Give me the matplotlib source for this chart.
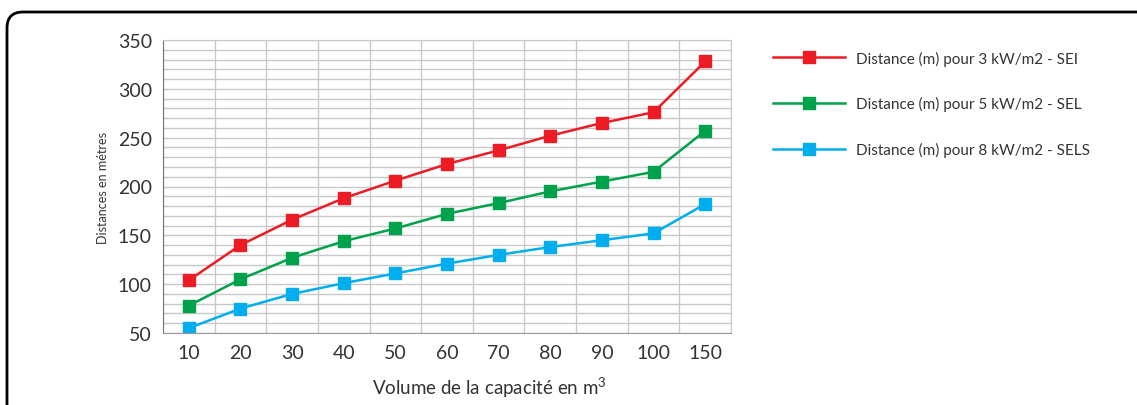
import matplotlib
matplotlib.use("Agg")
import matplotlib.pyplot as plt
from matplotlib.patches import FancyBboxPatch
from matplotlib.transforms import IdentityTransform
from matplotlib.ticker import MultipleLocator, FixedLocator

plt.rcParams['font.family'] = ['Lato', 'DejaVu Sans']
plt.rcParams['mathtext.fontset'] = 'custom'
plt.rcParams['mathtext.rm'] = 'Lato'
plt.rcParams['mathtext.default'] = 'rm'

# --- Data ---
volumes = ["10", "20", "30", "40", "50", "60", "70", "80", "90", "100", "150"]
sei = [104, 140, 166, 188, 206, 223, 237, 252, 265, 276, 328]
sel = [78, 105, 127, 144, 157, 172, 183, 195, 205, 215, 257]
sels = [55, 75, 90, 101, 111, 121, 130, 138, 145, 152, 182]

series = [
    ("Distance (m) pour 3 kW/m2 - SEI", sei, "#ED1C24"),
    ("Distance (m) pour 5 kW/m2 - SEL", sel, "#00A14B"),
    ("Distance (m) pour 8 kW/m2 - SELS", sels, "#00AEEF"),
]

W, H = 1137, 406
fig = plt.figure(figsize=(W / 100, H / 100), dpi=100)

# --- rounded frame around the chart (pixel coords, runs off right/bottom) ---
frame = FancyBboxPatch((7, -40), 1300, H - 13 + 40,
                       boxstyle="round,pad=0,rounding_size=16",
                       transform=IdentityTransform(), fill=False,
                       edgecolor="black", linewidth=2)
fig.patches.append(frame)

ax = fig.add_axes([163 / W, 1 - 334 / H, (731 - 163) / W, (334 - 41) / H])

x = list(range(len(volumes)))
for label, vals, color in series:
    ax.plot(x, vals, color=color, linewidth=1.8, marker="s", markersize=9,
            label=label)

ax.set_xlim(-0.5, len(volumes) - 0.5)
ax.set_ylim(50, 350)
ax.set_xticks(x)
ax.set_xticklabels(volumes)
ax.xaxis.set_minor_locator(FixedLocator([i - 0.5 for i in range(len(volumes) + 1)]))
ax.yaxis.set_major_locator(MultipleLocator(50))
ax.yaxis.set_minor_locator(MultipleLocator(10))

ax.grid(which="minor", axis="both", color="#c8c8c8", linewidth=1)
ax.grid(which="major", axis="y", color="#c8c8c8", linewidth=1)
ax.set_axisbelow(True)
ax.tick_params(which="both", length=0)
ax.tick_params(axis="y", labelsize=14, colors="#333333", pad=8)
ax.tick_params(axis="x", labelsize=14, colors="#333333", pad=8)

for s in ["top", "right"]:
    ax.spines[s].set_color("#c8c8c8")
ax.spines["left"].set_color("#777777")
ax.spines["bottom"].set_color("#999999")

ax.set_ylabel("Distances en métres", fontsize=9, color="#333333")
ax.yaxis.set_label_coords((103 - 163) / 568, 0.5)
ax.set_xlabel("Volume de la capacité en m$^3$", fontsize=13.5, color="#333333")
ax.xaxis.set_label_coords((489 - 163) / 568, -(388 - 334) / 293)
ax.xaxis.label.set_va("center")
ax.yaxis.label.set_va("center")

ax.legend(loc="upper left", bbox_to_anchor=(1.05, 1.0 + 3 / 293), frameon=False,
          fontsize=11, labelcolor="#333333", handlelength=4.7, labelspacing=2.0,
          handletextpad=0.7)

fig.savefig("out.png", dpi=100)
